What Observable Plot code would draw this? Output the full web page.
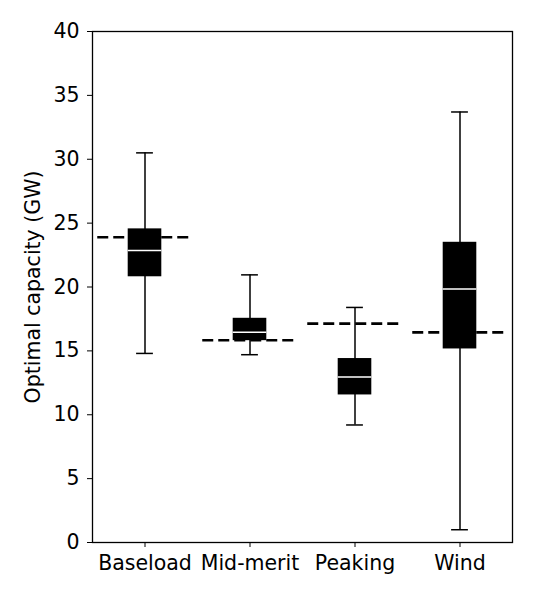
<!DOCTYPE html>
<html>
<head>
<meta charset="utf-8">
<script src="https://cdn.jsdelivr.net/npm/d3@7"></script>
<script src="https://cdn.jsdelivr.net/npm/@observablehq/plot@0.6"></script>
<style>
  html, body { margin: 0; padding: 0; background: #fff; }
  #chart svg { display: block; }
</style>
</head>
<body>
<div id="chart"></div>
<script>
const categories = ["Baseload", "Mid-merit", "Peaking", "Wind"];
const whiskerLow  = [14.8, 14.7, 9.2, 1.0];
const quartile1   = [20.8, 15.8, 11.55, 15.15];
const median      = [22.85, 16.45, 12.95, 19.85];
const quartile3   = [24.55, 17.55, 14.4, 23.5];
const whiskerHigh = [30.5, 20.95, 18.4, 33.7];
const reference   = [23.9, 15.83, 17.13, 16.45];
const yTicks = [0, 5, 10, 15, 20, 25, 30, 35, 40];

const boxHalf = 0.16, capHalf = 0.08, refHalf = 0.45;
const rows = categories.map((c, i) => ({
  cat: c, pos: i + 1,
  lo: whiskerLow[i], q1: quartile1[i], med: median[i], q3: quartile3[i], hi: whiskerHigh[i], ref: reference[i]
}));

const chart = Plot.plot({
  width: 540,
  height: 600,
  marginLeft: 92,
  marginRight: 28,
  marginTop: 31,
  marginBottom: 58,
  style: { fontFamily: "DejaVu Sans", fontSize: "20.5px", color: "#000", background: "#fff" },
  x: { type: "linear", domain: [0.5, 4.5] },
  y: { domain: [0, 40] },
  marks: [
    Plot.ruleX(rows, { x: "pos", y1: "lo", y2: "hi", stroke: "black", strokeWidth: 1.5 }),
    Plot.ruleY(rows, { y: "lo", x1: d => d.pos - capHalf, x2: d => d.pos + capHalf, stroke: "black", strokeWidth: 1.5 }),
    Plot.ruleY(rows, { y: "hi", x1: d => d.pos - capHalf, x2: d => d.pos + capHalf, stroke: "black", strokeWidth: 1.5 }),
    Plot.rect(rows, { x1: d => d.pos - boxHalf, x2: d => d.pos + boxHalf, y1: "q1", y2: "q3", fill: "black", inset: 0 }),
    Plot.ruleY(rows, { y: "med", x1: d => d.pos - boxHalf, x2: d => d.pos + boxHalf, stroke: "white", strokeWidth: 1.5 }),
    Plot.ruleY(rows, { y: "ref", x1: d => d.pos - refHalf, x2: d => d.pos + refHalf, stroke: "black", strokeWidth: 2.6, strokeDasharray: "11,5" }),
    Plot.axisY({ ticks: yTicks, tickSize: 5, tickPadding: 8, fontSize: 20.5, label: "Optimal capacity (GW)", labelAnchor: "center", labelArrow: "none", labelOffset: 67, tickFormat: d => String(d) }),
    Plot.axisX({ ticks: rows.map(d => d.pos), tickSize: 5, tickPadding: 8, fontSize: 20.5, tickFormat: d => categories[d - 1], label: null }),
    Plot.frame({ stroke: "black", strokeWidth: 1.3 })
  ]
});
document.getElementById("chart").appendChild(chart);
</script>
</body>
</html>
